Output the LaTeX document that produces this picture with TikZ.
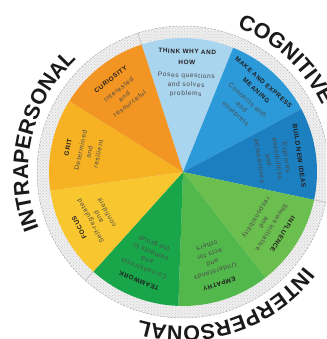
\documentclass[tikz,border=0pt]{standalone}
\usepackage{fontspec}
\setmainfont{Liberation Sans}
\newfontfamily\dfam[LetterSpace=10]{Liberation Sans}
\newfontfamily\tfam[LetterSpace=9]{Liberation Sans}
\usetikzlibrary{decorations.text,patterns}
\definecolor{thinkC}{HTML}{AAD5EF}
\definecolor{makeC}{HTML}{2C9AD8}
\definecolor{buildC}{HTML}{1C7FC0}
\definecolor{influC}{HTML}{6BBF4E}
\definecolor{empC}{HTML}{52B84C}
\definecolor{teamC}{HTML}{19A64A}
\definecolor{focusC}{HTML}{F8C62E}
\definecolor{gritC}{HTML}{F6B223}
\definecolor{curC}{HTML}{F39522}
\definecolor{titleC}{HTML}{231F20}
\definecolor{descC}{HTML}{4A4A4A}
\definecolor{labelC}{HTML}{1A1A1A}
\definecolor{ringC}{HTML}{EFEFEF}
\newcommand\tf{\fontsize{6.4}{9}\tfam\bfseries\color{titleC}}
\newcommand\wedgefill[3]{\fill[#3] (C) -- ++(#1:134) arc[start angle=#1, end angle=#2, radius=134] -- cycle;}
\tikzset{
  sectxt/.style={anchor=north, inner sep=0pt, align=center, text=descC,
    font=\dfam\fontsize{6.6}{9}\selectfont},
  biglabel/.style={decorate, decoration={text along path, text align=left,
    text color=labelC, text={|\fontsize{21.5}{21.5}\selectfont\bfseries|#1}}}
}
\begin{document}
\begin{tikzpicture}[x=1pt,y=1pt]
\useasboundingbox (0,0) rectangle (326,339);
\clip (0,0) rectangle (326,339);
\coordinate (C) at (183,167);
% outer ring
\fill[ringC] (C) circle[radius=146];
\fill[pattern=crosshatch dots, pattern color=gray!40] (C) circle[radius=146];
\draw[gray!70, line width=0.5pt, dash pattern=on 2pt off 1.5pt] (C) circle[radius=146];
\foreach \a in {108,228,348}{
  \draw[gray!60, line width=0.5pt] (C) ++(\a:134) -- ++(\a:12);
}
% sectors
\wedgefill{68}{108}{thinkC}
\wedgefill{28}{68}{makeC}
\wedgefill{-12}{28}{buildC}
\wedgefill{-52}{-12}{influC}
\wedgefill{-92}{-52}{empC}
\wedgefill{-132}{-92}{teamC}
\wedgefill{-172}{-132}{focusC}
\wedgefill{148}{188}{gritC}
\wedgefill{108}{148}{curC}
% sector texts
\node[sectxt, rotate=-2] (think) at ([shift={(88:123)}]C)
  {\tf THINK WHY AND\\[2pt]\tf HOW\\[4pt]Poses questions\\and solves\\problems};
\node[sectxt, rotate=-42] (make) at ([shift={(48:123)}]C)
  {\tf MAKE AND EXPRESS\\[2pt]\tf MEANING\\[4pt]Connects with\\and\\interprets};
\node[sectxt, rotate=-82] (build) at ([shift={(8:120)}]C)
  {\tf BUILD NEW IDEAS\\[4pt]Explores\\possibilities\\and\\perspectives};
\node[sectxt, rotate=-122] (influence) at ([shift={(-32:120)}]C)
  {\tf INFLUENCE\\[4pt]Shows initiative\\and\\responsibility};
\node[sectxt, rotate=-162] (empathy) at ([shift={(-72:120)}]C)
  {\tf EMPATHY\\[4pt]Understands\\and\\acts for\\others};
\node[sectxt, rotate=158] (teamwork) at ([shift={(-112:120)}]C)
  {\tf TEAMWORK\\[4pt]Co-constructs\\and\\commits to\\the group};
\node[sectxt, rotate=118] (focus) at ([shift={(-152:120)}]C)
  {\tf FOCUS\\[4pt]Self-regulated\\and\\confident};
\node[sectxt, rotate=78] (grit) at ([shift={(168:120)}]C)
  {\tf GRIT\\[4pt]Determined\\and\\resilient};
\node[sectxt, rotate=38] (curiosity) at ([shift={(128:120)}]C)
  {\tf CURIOSITY\\[4pt]Interested\\and\\resourceful};
% big labels
\path[biglabel=COGNITIVE] (C) ++(69.5:154) arc[start angle=69.5, end angle=0, radius=154];
\path[biglabel=INTERPERSONAL] (C) ++(-38:154) arc[start angle=-38, end angle=-130, radius=154];
\path[biglabel=INTRAPERSONAL] (C) ++(201.5:155) arc[start angle=201.5, end angle=100, radius=155];
\end{tikzpicture}
\end{document}
